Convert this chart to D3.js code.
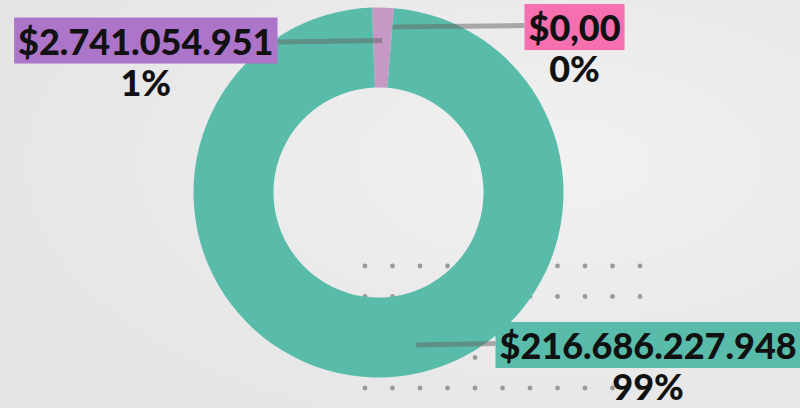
<!DOCTYPE html>
<html lang="es">
<head>
<meta charset="UTF-8">
<title>Donut</title>
<script src="https://cdn.jsdelivr.net/npm/d3@7"></script>
<style>
    html, body { margin: 0; padding: 0; background: #ebebeb; }
    svg { display: block; }
    text { font-family: Lato, "Open Sans", sans-serif; font-weight: 900; fill: #111; }
</style>
</head>
<body>
<div id="chart"></div>
<script>
    var width = 800, height = 408;

    // data
    var categories = ["B", "C", "A"];
    var amounts = [2741054951, 0, 216686227948];
    var amountLabels = ["$2.741.054.951", "$0,00", "$216.686.227.948"];
    var percentLabels = ["1%", "0%", "99%"];
    var sliceColors = ["#c598c6", "#f66faf", "#59bcaa"];
    var boxColors = ["#ad75ca", "#f66faf", "#59bcaa"];

    var cx = 378.5, cy = 192.5, outerR = 185, innerR = 105;
    var fontSize = 36;

    var svg = d3.select("#chart").append("svg")
        .attr("width", width).attr("height", height);

    // background + dot pattern
    var bg = svg.append("defs").append("radialGradient").attr("id", "bgGrad")
        .attr("cx", "70%").attr("cy", "40%").attr("r", "80%");
    bg.append("stop").attr("offset", "0%").attr("stop-color", "#f1f1f1");
    bg.append("stop").attr("offset", "100%").attr("stop-color", "#e4e4e4");
    svg.append("rect").attr("width", width).attr("height", height).attr("fill", "url(#bgGrad)");

    var dots = [];
    for (var r = 0; r < 5; r++) for (var c = 0; c < 11; c++) dots.push([365 + c * 27.5, 266 + r * 30.5]);
    svg.append("g").selectAll("circle").data(dots).enter().append("circle")
        .attr("cx", function (d) { return d[0]; })
        .attr("cy", function (d) { return d[1]; })
        .attr("r", 2.4).attr("fill", "#9a9a9a");

    var total = d3.sum(amounts);
    // small non-zero slices get a minimum visible angle
    var pie = d3.pie()
        .sort(null)
        .startAngle(-0.035)
        .endAngle(2 * Math.PI - 0.035)
        .value(function (d) { return d > 0 ? Math.max(d, total * 0.019) : 0; });
    var arcs = pie(amounts);

    var arc = d3.arc().innerRadius(innerR).outerRadius(outerR);
    var g = svg.append("g").attr("transform", "translate(" + cx + "," + cy + ")");
    g.selectAll("path").data(arcs).enter().append("path")
        .attr("d", arc)
        .attr("fill", function (d, i) { return sliceColors[i]; });

    // leader lines and labels
    var leaderR = [152, 166, 157];
    var boxEdge = [cx - 101, cx + 146, cx + 117];   // right edge for left labels, left edge for right labels
    var side = [-1, 1, 1];

    var labels = svg.append("g");
    arcs.forEach(function (a, i) {
        var mid = (a.startAngle + a.endAngle) / 2;
        if (i === 2) mid = Math.PI - 0.241;
        var x0 = cx + Math.sin(mid) * leaderR[i];
        var y0 = cy - Math.cos(mid) * leaderR[i];

        var t = labels.append("text").attr("font-size", fontSize).text(amountLabels[i]);
        var w = t.node().getComputedTextLength();
        var padX = 4, boxH = 46;
        var bx = side[i] < 0 ? boxEdge[i] - w - 2 * padX : boxEdge[i];
        var by = y0 - boxH / 2;

        labels.insert("line", "text")
            .attr("x1", x0).attr("y1", y0)
            .attr("x2", boxEdge[i]).attr("y2", y0 - side[i] * 1.5)
            .attr("stroke", "#646464").attr("stroke-opacity", 0.5).attr("stroke-width", 5);
        labels.insert("rect", "text")
            .attr("x", bx).attr("y", by).attr("width", w + 2 * padX).attr("height", boxH)
            .attr("fill", boxColors[i]);
        t.attr("x", bx + padX).attr("y", by + boxH - 9);

        labels.append("text").attr("font-size", fontSize)
            .attr("text-anchor", "middle")
            .attr("x", bx + (w + 2 * padX) / 2).attr("y", by + boxH + 32)
            .text(percentLabels[i]);
    });
</script>
</body>
</html>
